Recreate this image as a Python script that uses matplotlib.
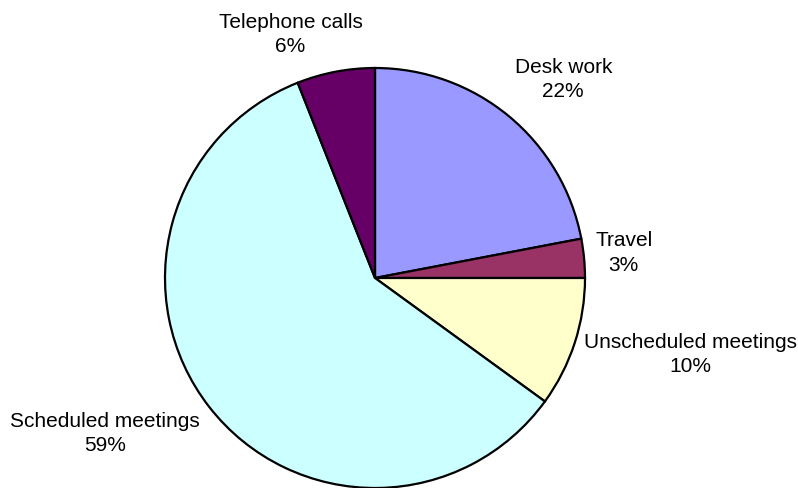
import numpy as np
import matplotlib
matplotlib.use('Agg')
import matplotlib.pyplot as plt

categories = ['Desk work', 'Travel', 'Unscheduled meetings',
              'Scheduled meetings', 'Telephone calls']
shares = [22, 3, 10, 59, 6]
colors = ['#9999FF', '#993366', '#FFFFCC', '#CCFFFF', '#660066']

plt.rcParams['font.family'] = ['Liberation Sans', 'DejaVu Sans']

W, H = 798, 488
fig = plt.figure(figsize=(W / 100, H / 100), dpi=100)
ax = fig.add_axes([0, 0, 1, 1])

# axes in pixel units, pie centred where the original sits
cx, cy, radius = 375, H - 278, 210
wedges, _ = ax.pie(shares, colors=colors, startangle=90, counterclock=False,
                   center=(cx, cy), radius=radius,
                   wedgeprops=dict(edgecolor='black', linewidth=1.6))
ax.set_xlim(0, W)
ax.set_ylim(0, H)
ax.set_aspect('equal')
ax.axis('off')

# small nudges so labels sit like the original (pixels)
nudge = {'Telephone calls': (29, 4), 'Scheduled meetings': (0, 2),
         'Desk work': (-2, 6), 'Unscheduled meetings': (-2, -8),
         'Travel': (-1, 4)}

total = sum(shares)
for w, name, val in zip(wedges, categories, shares):
    mid = np.deg2rad((w.theta1 + w.theta2) / 2)
    c, s = np.cos(mid), np.sin(mid)
    d = radius + 12
    x, y = cx + d * c, cy + d * s
    dx, dy = nudge.get(name, (0, 0))
    ha = 'left' if c > 0.1 else ('right' if c < -0.1 else 'center')
    va = 'bottom' if s > 0.5 else ('top' if s < -0.5 else 'center')
    ax.text(x + dx, y + dy, f'{name}\n{round(val / total * 100)}%',
            ha=ha, va=va, multialignment='center', fontsize=15,
            linespacing=1.35)

fig.savefig('out.png', dpi=100)
